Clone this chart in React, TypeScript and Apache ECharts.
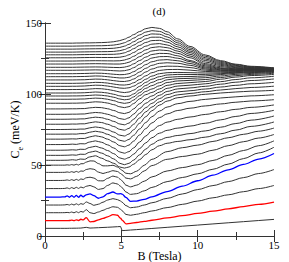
import React, { useEffect, useRef } from 'react';
import * as echarts from 'echarts';

// B grids (Tesla)
const B_LO = [0, 1, 1.3, 1.45, 1.6, 1.75, 1.9, 2.05, 2.2, 2.35, 2.5, 2.7, 2.95, 3.2, 3.5, 3.8, 4.1, 4.45, 4.75, 4.95, 5.05, 5.3, 5.6, 6.0, 6.5, 7, 8, 9, 10, 11, 12, 13, 14, 15];
const B_HI = [0, 1, 1.5, 1.8, 2.05, 2.3, 2.6, 2.9, 3.3, 3.7, 4.1, 4.5, 4.9, 5.2, 5.5, 5.8, 6.2, 6.6, 7.0, 7.5, 8.0, 8.7, 9.5, 10.5, 11.5, 12.5, 13.5, 15];

// Curves on B_LO (bottom ones)
const c00 = [5.4, 5.4, 5.4, 5.4, 5.45, 5.45, 5.5, 5.5, 5.55, 5.6, 5.8, 6.1, 5.6, 5.7, 5.85, 6.0, 6.15, 6.35, 6.55, 6.7, 3.8, 3.95, 4.2, 4.5, 4.9, 5.3, 6.1, 6.9, 7.7, 8.5, 9.3, 10.1, 10.9, 11.7];
const c01 = [10.8, 10.8, 10.8, 10.85, 10.9, 11.2, 10.8, 11.4, 10.9, 11.8, 11.4, 12.9, 10.0, 10.2, 11.4, 12.4, 13.5, 15.0, 14.6, 12.5, 11.2, 8.6, 8.9, 9.5, 10.3, 11.1, 12.7, 14.3, 15.9, 17.5, 19.1, 20.7, 22.3, 23.9];
const c02 = [16.4, 16.4, 16.45, 16.6, 16.4, 16.9, 16.3, 17.1, 16.4, 17.3, 16.8, 18.6, 16.4, 15.8, 16.9, 18.1, 19.4, 20.6, 20.2, 18.8, 17.8, 15.2, 14.6, 15.3, 16.4, 17.6, 20.0, 22.3, 24.6, 26.9, 29.0, 31.2, 33.4, 35.6];
const c03 = [21.8, 21.8, 21.9, 22.2, 21.8, 22.5, 21.8, 22.7, 21.9, 22.8, 22.3, 24.0, 22.9, 21.6, 22.4, 23.8, 25.3, 26.3, 25.6, 24.6, 23.8, 21.4, 19.9, 20.4, 21.8, 23.4, 26.5, 29.6, 32.7, 35.5, 38.3, 41.1, 44.0, 46.8];
const c04 = [27.4, 27.4, 27.6, 28.2, 27.3, 28.5, 27.3, 28.6, 27.3, 28.7, 27.6, 29.0, 29.6, 28.4, 26.6, 27.6, 29.8, 31.0, 29.6, 29.8, 29.5, 27.2, 24.4, 24.6, 25.8, 27.6, 31.3, 35.1, 38.9, 42.8, 46.6, 50.4, 54.2, 58.1];
const c05 = [33.4, 33.4, 33.5, 33.9, 33.3, 34.1, 33.4, 34.3, 33.5, 34.5, 33.9, 35.0, 35.6, 34.6, 32.8, 33.4, 35.6, 37.4, 36.6, 35.0, 34.0, 31.0, 29.3, 29.8, 31.8, 34.2, 38.3, 41.2, 43.8, 47.0, 50.6, 54.5, 58.5, 62.5];
const c06 = [39.1, 39.1, 39.2, 39.5, 39.1, 39.7, 39.1, 39.9, 39.2, 40.2, 39.8, 41.0, 41.4, 40.8, 38.9, 38.8, 40.6, 42.2, 41.4, 39.8, 38.8, 35.8, 34.6, 35.8, 38.6, 41.6, 45.8, 48.2, 50.2, 53.2, 56.8, 60.2, 63.6, 67.0];
const c07 = [44.8, 44.8, 44.85, 45.1, 44.8, 45.3, 44.8, 45.5, 44.9, 45.8, 45.6, 46.8, 47.4, 47.0, 45.0, 44.0, 44.9, 46.0, 45.4, 44.0, 43.2, 40.8, 40.2, 42.0, 45.8, 49.6, 54.0, 56.0, 57.6, 60.4, 63.6, 66.4, 69.0, 71.5];
const c08 = [49.9, 49.9, 49.9, 50.1, 49.9, 50.3, 49.9, 50.5, 50.0, 50.9, 50.9, 52.0, 52.9, 52.8, 51.0, 49.4, 49.4, 49.8, 48.6, 47.0, 46.2, 44.2, 43.8, 45.6, 49.8, 54.0, 59.4, 62.2, 64.0, 66.6, 69.2, 71.6, 73.8, 76.0];

// Curves on B_HI
const c09 = [53.3, 53.3, 53.4, 53.7, 53.4, 54.2, 54.0, 55.6, 56.5, 54.8, 52.9, 51.2, 48.6, 47.8, 48.6, 50.5, 53.8, 57.4, 60.7, 63.6, 65.3, 66.6, 67.8, 69.6, 72.0, 74.6, 77.2, 80.3];
const c10 = [56.8, 56.8, 56.9, 57.1, 56.9, 57.6, 57.5, 58.9, 59.8, 58.4, 56.5, 54.3, 51.2, 50.2, 51.2, 53.4, 57.2, 61.2, 64.6, 67.6, 69.4, 70.8, 72.1, 74.0, 76.6, 79.2, 81.6, 84.5];
const c11 = [60.4, 60.4, 60.5, 60.7, 60.5, 61.1, 61.0, 62.3, 63.2, 62.0, 60.2, 58.0, 55.0, 54.1, 55.2, 57.6, 61.6, 65.6, 69.2, 72.4, 74.4, 76.0, 77.4, 79.4, 81.8, 84.2, 86.3, 88.5];
const c12 = [64.4, 64.4, 64.5, 64.7, 64.5, 65.0, 64.9, 66.1, 67.0, 66.0, 64.2, 62.0, 59.2, 58.3, 59.4, 62.0, 66.2, 70.4, 74.2, 77.8, 80.2, 82.2, 83.8, 85.6, 87.5, 89.2, 90.6, 92.3];
const c13 = [68.2, 68.2, 68.3, 68.4, 68.3, 68.7, 68.7, 69.7, 70.6, 69.8, 68.2, 66.2, 63.6, 62.8, 64.0, 66.8, 71.2, 75.6, 79.6, 83.4, 86.0, 88.4, 90.0, 91.6, 93.0, 94.2, 95.1, 96.0];
const c14 = [71.7, 71.7, 71.75, 71.8, 71.75, 72.1, 72.1, 73.0, 73.8, 73.1, 71.6, 69.8, 67.4, 66.7, 68.0, 70.9, 75.4, 79.9, 84.0, 88.0, 90.8, 93.2, 94.8, 96.2, 97.2, 98.0, 98.7, 99.5];
const c15 = [75.0, 75.0, 75.05, 75.15, 75.1, 75.3, 75.3, 76.1, 76.8, 76.2, 74.9, 73.2, 71.0, 70.4, 71.8, 74.8, 79.4, 84.0, 88.2, 92.2, 95.0, 97.4, 98.6, 99.8, 100.7, 101.4, 102.0, 102.6];
const c16 = [78.7, 78.7, 78.75, 78.85, 78.8, 79.0, 79.0, 79.7, 80.4, 79.9, 78.7, 77.1, 75.1, 74.5, 75.8, 78.7, 83.1, 87.4, 90.8, 94.5, 97.3, 99.4, 100.4, 101.6, 102.8, 103.8, 104.6, 105.5];
const c17 = [82.2, 82.2, 82.25, 82.35, 82.3, 82.45, 82.5, 83.1, 83.7, 83.3, 82.2, 80.7, 78.9, 78.3, 79.5, 82.2, 86.4, 90.4, 93.4, 96.8, 99.6, 101.5, 102.3, 103.5, 104.9, 106.1, 107.2, 108.2];
const c18 = [85.7, 85.7, 85.75, 85.8, 85.8, 85.9, 85.95, 86.5, 87.0, 86.7, 85.7, 84.4, 82.7, 82.1, 83.2, 85.8, 89.8, 93.5, 96.0, 99.1, 101.8, 103.6, 104.3, 105.4, 106.9, 108.3, 109.5, 110.6];
const c19 = [89.5, 89.5, 89.55, 89.6, 89.6, 89.7, 89.75, 90.2, 90.6, 90.4, 89.6, 88.4, 86.8, 86.2, 87.1, 89.5, 93.2, 96.5, 98.6, 101.3, 104.0, 105.6, 106.2, 107.2, 108.7, 110.2, 111.4, 112.5];
const c20 = [93.5, 93.5, 93.5, 93.55, 93.55, 93.65, 93.7, 94.1, 94.5, 94.3, 93.6, 92.5, 91.0, 90.4, 91.1, 93.2, 96.6, 99.5, 101.1, 103.6, 106.1, 107.4, 108.0, 108.8, 110.4, 111.9, 113.0, 113.8];
const c21 = [96.3, 96.3, 96.3, 96.35, 96.35, 96.45, 96.5, 96.8, 97.1, 96.9, 96.3, 95.3, 94.0, 93.4, 93.9, 95.7, 98.9, 101.8, 103.5, 105.8, 108.1, 109.2, 109.6, 110.2, 111.6, 112.9, 113.8, 114.6];
const c22 = [98.6, 98.6, 98.6, 98.65, 98.65, 98.7, 98.8, 99.0, 99.3, 99.1, 98.6, 97.7, 96.5, 95.9, 96.3, 97.9, 101.0, 104.0, 105.9, 108.0, 110.0, 110.8, 111.0, 111.5, 112.7, 113.8, 114.5, 115.2];
const c23 = [100.7, 100.7, 100.7, 100.75, 100.75, 100.8, 100.9, 101.1, 101.4, 101.2, 100.7, 99.8, 98.7, 98.2, 98.5, 100.0, 103.0, 106.0, 108.2, 110.2, 111.7, 112.2, 112.3, 112.7, 113.7, 114.6, 115.1, 115.6];
const c24 = [103.1, 103.1, 103.1, 103.15, 103.15, 103.2, 103.3, 103.5, 103.8, 103.7, 103.2, 102.4, 101.4, 101.0, 101.4, 102.7, 105.4, 108.2, 110.4, 112.2, 113.4, 113.8, 113.7, 113.8, 114.3, 115.0, 115.5, 115.9];
const c25 = [105.4, 105.4, 105.4, 105.45, 105.45, 105.55, 105.65, 105.9, 106.2, 106.1, 105.6, 104.9, 104.2, 104.0, 104.4, 105.5, 107.8, 110.4, 112.6, 114.3, 115.0, 115.2, 115.0, 114.8, 114.9, 115.3, 115.7, 116.2];
const c26 = [107.5, 107.5, 107.5, 107.5, 107.55, 107.6, 107.7, 107.9, 108.2, 108.1, 107.7, 107.0, 106.4, 106.3, 106.7, 107.9, 110.2, 112.8, 115.0, 116.6, 117.2, 117.3, 116.8, 115.9, 115.6, 115.8, 116.1, 116.5];
const c27 = [109.9, 109.9, 109.9, 109.9, 109.95, 110.0, 110.05, 110.25, 110.5, 110.4, 110.0, 109.4, 108.9, 108.8, 109.3, 110.5, 112.9, 115.5, 117.6, 119.1, 119.6, 119.5, 118.6, 116.8, 116.1, 116.1, 116.4, 116.7];
const c28 = [112.2, 112.2, 112.2, 112.2, 112.25, 112.3, 112.35, 112.5, 112.7, 112.6, 112.2, 111.7, 111.3, 111.3, 111.8, 113.1, 115.5, 118.1, 120.2, 121.6, 122.0, 121.6, 120.2, 117.6, 116.6, 116.5, 116.7, 116.9];
const c29 = [114.3, 114.3, 114.3, 114.3, 114.35, 114.4, 114.45, 114.55, 114.7, 114.6, 114.3, 113.9, 113.6, 113.7, 114.3, 115.7, 118.1, 120.7, 122.7, 123.9, 124.2, 123.4, 121.5, 118.3, 117.1, 116.8, 116.9, 117.1];
const c30 = [116.7, 116.7, 116.7, 116.7, 116.75, 116.8, 116.85, 116.9, 117.0, 116.9, 116.7, 116.4, 116.2, 116.4, 117.1, 118.5, 120.9, 123.4, 125.3, 126.3, 126.4, 125.2, 122.8, 119.0, 117.6, 117.1, 117.1, 117.3];
const c31 = [118.8, 118.8, 118.8, 118.8, 118.85, 118.9, 118.95, 119.0, 119.05, 119.0, 118.85, 118.7, 118.6, 118.9, 119.7, 121.2, 123.6, 126.0, 127.8, 128.6, 128.5, 126.9, 123.6, 119.8, 118.0, 117.4, 117.4, 117.5];
const c32 = [121.1, 121.1, 121.1, 121.1, 121.15, 121.2, 121.25, 121.3, 121.35, 121.3, 121.2, 121.1, 121.1, 121.5, 122.4, 123.9, 126.3, 128.6, 130.3, 131.0, 130.6, 128.6, 125.5, 120.6, 118.5, 117.7, 117.5, 117.6];
const c33 = [123.2, 123.2, 123.2, 123.2, 123.25, 123.3, 123.35, 123.4, 123.45, 123.4, 123.35, 123.3, 123.4, 123.9, 124.9, 126.5, 128.9, 131.1, 132.7, 133.3, 132.6, 130.2, 126.7, 121.4, 119.3, 118.1, 117.7, 117.7];
const c34 = [125.5, 125.5, 125.5, 125.5, 125.55, 125.6, 125.65, 125.7, 125.75, 125.7, 125.7, 125.7, 125.9, 126.5, 127.6, 129.2, 131.6, 133.7, 135.1, 135.5, 134.5, 131.7, 127.9, 122.5, 120.1, 118.6, 117.9, 117.8];
const c35 = [127.6, 127.6, 127.6, 127.6, 127.65, 127.7, 127.75, 127.8, 127.85, 127.85, 127.9, 127.95, 128.3, 129.0, 130.2, 131.9, 134.2, 136.3, 137.6, 137.8, 136.5, 133.2, 129.1, 123.6, 120.8, 119.1, 118.3, 117.9];
const c36 = [129.5, 129.5, 129.5, 129.5, 129.55, 129.6, 129.65, 129.7, 129.75, 129.8, 129.85, 130.0, 130.5, 131.3, 132.6, 134.4, 136.7, 138.8, 140.0, 140.0, 138.4, 134.6, 130.2, 124.6, 121.5, 119.6, 118.6, 118.0];
const c37 = [131.6, 131.6, 131.6, 131.6, 131.65, 131.7, 131.75, 131.8, 131.85, 131.9, 132.0, 132.2, 132.8, 133.7, 135.0, 136.8, 139.1, 141.2, 142.3, 142.1, 140.2, 136.0, 131.3, 125.6, 122.2, 120.1, 118.9, 118.1];
const c38 = [133.7, 133.7, 133.7, 133.7, 133.75, 133.8, 133.85, 133.9, 133.95, 134.0, 134.15, 134.45, 135.15, 136.1, 137.5, 139.3, 141.6, 143.6, 144.6, 144.1, 142.0, 137.4, 132.4, 126.6, 122.9, 120.6, 119.2, 118.2];
const c39 = [135.8, 135.8, 135.8, 135.8, 135.9, 135.9, 136.0, 136.0, 136.1, 136.2, 136.4, 136.8, 137.6, 138.6, 140.0, 141.8, 144.0, 146.0, 146.9, 146.2, 143.8, 138.8, 133.5, 127.5, 123.5, 121.0, 119.5, 118.4];

const LOW_CURVES = [c00, c01, c02, c03, c04, c05, c06, c07, c08];
const HIGH_CURVES = [c09, c10, c11, c12, c13, c14, c15, c16, c17, c18, c19, c20, c21, c22, c23, c24, c25, c26, c27, c28, c29, c30, c31, c32, c33, c34, c35, c36, c37, c38, c39];

const RED_INDEX = 1;
const BLUE_INDEX = 4;

const SERIF = '"Liberation Serif", "Times New Roman", Times, serif';

export default function App() {
  const ref = useRef<HTMLDivElement>(null);

  useEffect(() => {
    if (!ref.current) return;
    const chart = echarts.init(ref.current, undefined, { renderer: 'svg' });
    const pairs = (xs: number[], ys: number[]) => xs.map((b, k) => [b, ys[k]]);

    const series: any[] = [];
    const pushLine = (xs: number[], ys: number[], color: string, width: number, z: number, smooth: number | boolean) => {
      series.push({
        type: 'line',
        data: pairs(xs, ys),
        showSymbol: false,
        symbol: 'none',
        smooth,
        smoothMonotone: 'x',
        lineStyle: { color, width },
        itemStyle: { color },
        z,
        silent: true,
      });
    };
    LOW_CURVES.forEach((ys, i) => {
      const color = i === RED_INDEX ? '#ff0000' : i === BLUE_INDEX ? '#0000ff' : '#333333';
      const width = i === RED_INDEX || i === BLUE_INDEX ? 1.3 : 1;
      pushLine(B_LO, ys, color, width, i === RED_INDEX || i === BLUE_INDEX ? 4 : 2, i === 0 ? false : 0.3);
    });
    HIGH_CURVES.forEach((ys) => pushLine(B_HI, ys, '#333333', 1, 2, 0.35));

    const axisLine = { show: true, lineStyle: { color: '#333', width: 1 } };
    const tick = { show: true, inside: true, length: 6, lineStyle: { color: '#333', width: 1 } };
    const minor = { show: true, splitNumber: 2, length: 4, lineStyle: { color: '#333', width: 1 } };
    const label = { color: '#000', fontSize: 11, fontFamily: SERIF, margin: 3 };

    chart.setOption({
      animation: false,
      backgroundColor: '#fff',
      textStyle: { fontFamily: SERIF },
      grid: { left: 45, right: 15, top: 23, bottom: 26, containLabel: false, outerBoundsMode: 'none' },
      graphic: [
        {
          type: 'text',
          x: 159,
          y: 11,
          style: { text: '(d)', fontSize: 11, fontFamily: SERIF, fill: '#000', align: 'center', verticalAlign: 'middle' },
        },
      ],
      xAxis: [
        {
          type: 'value', min: 0, max: 15, interval: 5, position: 'bottom',
          axisLine, axisTick: tick, minorTick: minor, splitLine: { show: false },
          axisLabel: label,
          name: 'B (Tesla)', nameLocation: 'middle', nameGap: 14, nameMoveOverlap: false,
          nameTextStyle: { color: '#000', fontSize: 12, fontFamily: SERIF },
        },
        {
          type: 'value', min: 0, max: 15, interval: 5, position: 'top',
          axisLine, axisTick: tick, minorTick: minor, splitLine: { show: false },
          axisLabel: { show: false },
        },
      ],
      yAxis: [
        {
          type: 'value', min: 0, max: 150, interval: 50, position: 'left',
          axisLine, axisTick: tick, minorTick: minor, splitLine: { show: false },
          axisLabel: label,
          name: '{c|C}{s|e}{c| (meV/K)}', nameLocation: 'middle', nameGap: 24, nameMoveOverlap: false,
          nameTextStyle: {
            color: '#000', fontFamily: SERIF,
            rich: {
              c: { fontSize: 12, fontFamily: SERIF, color: '#000', lineHeight: 14, verticalAlign: 'bottom' },
              s: { fontSize: 8, fontFamily: SERIF, color: '#000', lineHeight: 14, verticalAlign: 'bottom', padding: [0, 0, -3, 0] },
            },
          },
        },
        {
          type: 'value', min: 0, max: 150, interval: 50, position: 'right',
          axisLine, axisTick: tick, minorTick: minor, splitLine: { show: false },
          axisLabel: { show: false },
        },
      ],
      series,
    });
    return () => chart.dispose();
  }, []);

  return <div ref={ref} style={{ position: 'fixed', left: 0, top: 0, width: 289, height: 262 }} />;
}
